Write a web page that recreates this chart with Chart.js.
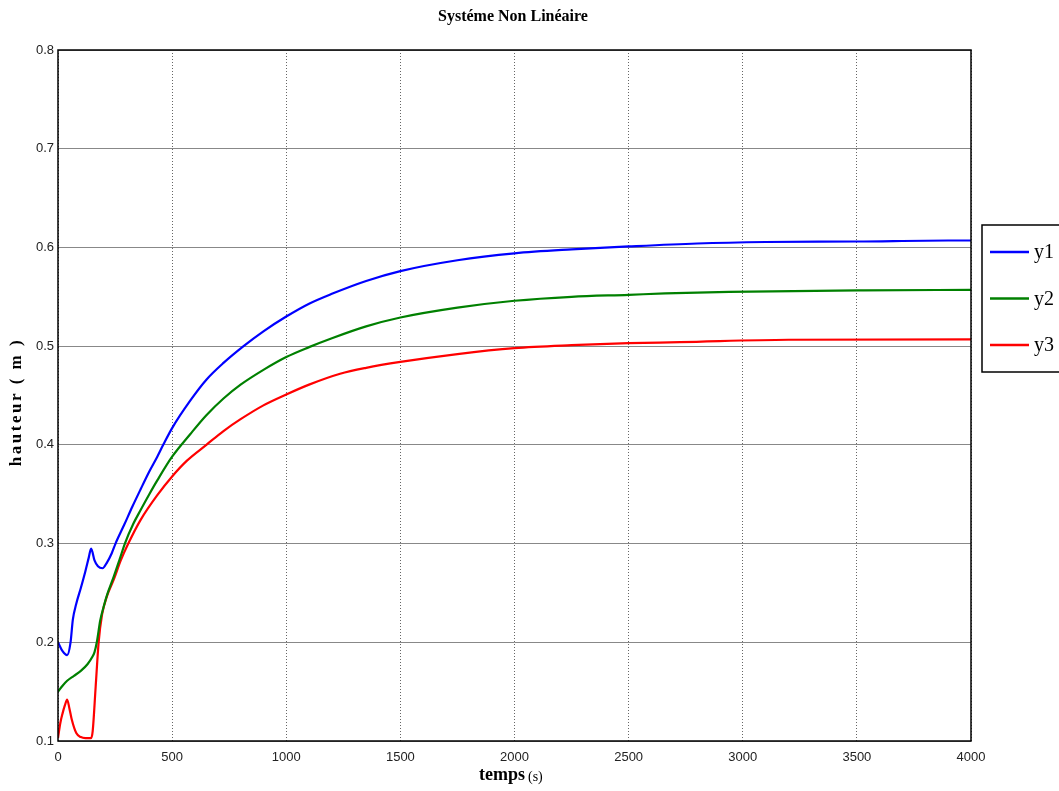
<!DOCTYPE html>
<html>
<head>
<meta charset="utf-8">
<script src="https://cdn.jsdelivr.net/npm/chart.js@4"></script>
<style>
  html, body { margin: 0; padding: 0; background: #fff; }
  #wrap { width: 1059px; height: 791px; }
</style>
</head>
<body>
<div id="wrap"><canvas id="canvas"></canvas></div>
<script>
// donnees
var t1 = [0, 20, 40, 55, 65, 80, 100, 120, 135, 145, 160, 175, 195, 215, 235, 252, 290, 325, 362, 400, 435, 461, 500, 580, 650, 725, 813, 900, 1000, 1100, 1200, 1350, 1500, 1750, 2000, 2250, 2500, 2800, 3100, 3500, 3900, 4000];
var y1 = [0.200, 0.191, 0.187, 0.200, 0.223, 0.239, 0.255, 0.272, 0.286, 0.295, 0.283, 0.277, 0.275, 0.281, 0.290, 0.300, 0.319, 0.337, 0.355, 0.373, 0.388, 0.400, 0.417, 0.445, 0.466, 0.483, 0.500, 0.515, 0.530, 0.543, 0.553, 0.566, 0.576, 0.587, 0.594, 0.598, 0.601, 0.604, 0.6055, 0.606, 0.607, 0.607];

var t2 = [0, 20, 40, 70, 100, 130, 150, 160, 170, 185, 200, 215, 245, 270, 293, 330, 362, 400, 435, 500, 580, 650, 725, 800, 900, 1000, 1100, 1200, 1350, 1500, 1750, 2000, 2250, 2500, 2660, 2940, 3530, 4000];
var y2 = [0.150, 0.156, 0.161, 0.166, 0.171, 0.178, 0.185, 0.190, 0.200, 0.222, 0.236, 0.248, 0.267, 0.284, 0.300, 0.320, 0.334, 0.350, 0.364, 0.388, 0.411, 0.430, 0.447, 0.461, 0.476, 0.489, 0.499, 0.508, 0.520, 0.529, 0.539, 0.546, 0.550, 0.552, 0.5534, 0.555, 0.5565, 0.557];

var t3 = [0, 10, 20, 30, 40, 50, 60, 80, 100, 120, 145, 152, 165, 178, 193, 215, 245, 275, 308, 362, 435, 500, 565, 650, 725, 800, 900, 1000, 1100, 1236, 1350, 1500, 1750, 2000, 2250, 2500, 2725, 3200, 4000];
var y3 = [0.103, 0.118, 0.128, 0.136, 0.142, 0.133, 0.122, 0.108, 0.104, 0.103, 0.103, 0.110, 0.155, 0.200, 0.228, 0.247, 0.264, 0.283, 0.300, 0.324, 0.349, 0.368, 0.384, 0.400, 0.414, 0.426, 0.440, 0.451, 0.461, 0.472, 0.478, 0.484, 0.492, 0.498, 0.501, 0.503, 0.504, 0.5065, 0.5068];

var seriesNames = ['y1', 'y2', 'y3'];
var seriesColors = ['#0000ff', '#008000', '#ff0000'];
var xTicks = [0, 500, 1000, 1500, 2000, 2500, 3000, 3500, 4000];
var yTicks = [0.1, 0.2, 0.3, 0.4, 0.5, 0.6, 0.7, 0.8];

function toPoints(t, y) {
    var pts = [];
    for (var i = 0; i < t.length; i++) pts.push({ x: t[i], y: y[i] });
    return pts;
}

var tickFont = "'Liberation Sans', Arial, sans-serif";
var serif = "'Liberation Serif', 'DejaVu Serif', serif";

// titre, noms des axes, cadre et legende
var decor = {
    id: 'decor',
    afterDraw: function (chart) {
        var ctx = chart.ctx;
        var a = chart.chartArea;
        ctx.save();
        ctx.strokeStyle = '#000';
        ctx.lineWidth = 1.5;
        ctx.strokeRect(a.left, a.top, a.right - a.left, a.bottom - a.top);

        ctx.fillStyle = '#000';
        ctx.textAlign = 'center';
        ctx.textBaseline = 'middle';
        ctx.font = 'bold 16px ' + serif;
        ctx.fillText('Systéme Non Linéaire', 513, 17);

        ctx.font = 'bold 18px ' + serif;
        ctx.textAlign = 'right';
        ctx.fillText('temps', 525, 775);
        ctx.font = '14px ' + serif;
        ctx.textAlign = 'left';
        ctx.fillText('(s)', 528, 777);

        ctx.save();
        ctx.translate(17, 402);
        ctx.rotate(-Math.PI / 2);
        ctx.textAlign = 'center';
        ctx.font = 'bold 17px ' + serif;
        ctx.letterSpacing = '2.5px';
        ctx.fillText('hauteur ( m )', 0, 0);
        ctx.restore();

        // legende
        ctx.lineWidth = 1.5;
        ctx.strokeStyle = '#000';
        ctx.fillStyle = '#fff';
        ctx.fillRect(982, 225, 90, 147);
        ctx.strokeRect(982, 225, 90, 147);
        ctx.font = '20px ' + serif;
        ctx.textAlign = 'left';
        chart.data.datasets.forEach(function (ds, i) {
            var yy = 252 + i * 46.5;
            ctx.strokeStyle = ds.borderColor;
            ctx.lineWidth = 2.5;
            ctx.beginPath();
            ctx.moveTo(990, yy);
            ctx.lineTo(1029, yy);
            ctx.stroke();
            ctx.fillStyle = '#000';
            ctx.fillText(ds.label, 1034, yy + 1);
        });
        ctx.restore();
    }
};

var datasets = [];
var allT = [t1, t2, t3];
var allY = [y1, y2, y3];
for (var k = 0; k < 3; k++) {
    datasets.push({
        label: seriesNames[k],
        data: toPoints(allT[k], allY[k]),
        borderColor: seriesColors[k],
        backgroundColor: seriesColors[k],
        borderWidth: 2.2,
        pointRadius: 0,
        cubicInterpolationMode: 'monotone',
        fill: false
    });
}

var ctx = document.getElementById('canvas');
var myChart = new Chart(ctx, {
    type: 'line',
    data: { datasets: datasets },
    options: {
        responsive: true,
        maintainAspectRatio: false,
        animation: false,
        layout: { padding: { left: 0, right: 88, top: 50, bottom: 0 } },
        plugins: {
            legend: { display: false },
            tooltip: { enabled: false }
        },
        scales: {
            x: {
                type: 'linear',
                min: 0,
                max: 4000,
                afterFit: function (s) { s.height = 50; },
                afterBuildTicks: function (s) { s.ticks = xTicks.map(function (v) { return { value: v }; }); },
                grid: { color: '#666', lineWidth: 1, drawTicks: false },
                border: { display: false },
                ticks: {
                    padding: 9,
                    color: '#222',
                    font: { family: tickFont, size: 13 },
                    maxRotation: 0,
                    callback: function (v) { return String(v); }
                }
            },
            y: {
                type: 'linear',
                min: 0.1,
                max: 0.8,
                afterFit: function (s) { s.width = 58; },
                afterBuildTicks: function (s) { s.ticks = yTicks.map(function (v) { return { value: v }; }); },
                grid: { color: '#888', lineWidth: 1, drawTicks: false },
                border: { display: false },
                ticks: {
                    padding: 4,
                    color: '#222',
                    font: { family: tickFont, size: 13 },
                    callback: function (v) { return v.toFixed(1); }
                }
            }
        }
    },
    plugins: [decor]
});

// grille verticale en pointilles
myChart.options.scales.x.grid.dash = [1, 2];
myChart.config.options.scales.x.border.dash = [1, 2];
myChart.update();
</script>
</body>
</html>
